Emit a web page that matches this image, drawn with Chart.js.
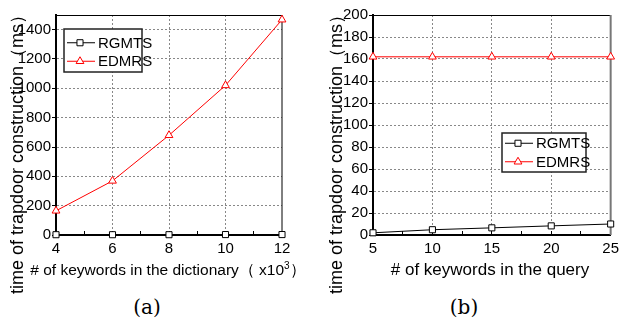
<!DOCTYPE html>
<html>
<head>
<meta charset="utf-8">
<script src="https://cdn.jsdelivr.net/npm/chart.js@4.4.0/dist/chart.umd.min.js"></script>
<style>
    body { margin: 0; background: #fff; }
    #page { position: relative; width: 628px; height: 320px; overflow: hidden; background: #fff; }
    canvas { position: absolute; top: 0; }
    .ytitle, .xtitle {
        position: absolute; width: 300px; height: 20px; line-height: 20px;
        text-align: center; white-space: nowrap; color: #000;
        font: 18px 'Liberation Sans Narrow', 'Liberation Sans', Arial, sans-serif;
    }
    .ytitle { transform: rotate(-90deg); }
    .xtitle { top: 260px; font-size: 17px; }
    .caption {
        position: absolute; top: 295px; width: 60px; text-align: center;
        font: 20px 'DejaVu Serif', serif; color: #000;
    }
</style>
</head>
<body>
<div id="page">
    <canvas id="chart_dict" width="314" height="290" style="left:0"></canvas>
    <canvas id="chart_query" width="314" height="290" style="left:314px"></canvas>
    <div class="ytitle" style="left:-135px; top:140px">time of trapdoor construction（ms）</div>
    <div class="ytitle" style="left:184px; top:140px">time of trapdoor construction（ms）</div>
    <div class="xtitle" style="left:18px; font-size:15.5px">#&nbsp;of keywords in the dictionary（ x10<sup style="font-size:10px">3</sup>）</div>
    <div class="xtitle" style="left:340px"># of keywords in the query</div>
    <div class="caption" style="left:117px">(a)</div>
    <div class="caption" style="left:434px">(b)</div>
</div>
<script>
const SANS = "'Liberation Sans Narrow', 'Liberation Sans', Arial, sans-serif";

// (a) varying dictionary size
const series_names = ['RGMTS', 'EDMRS'];
const keywords_dict = [4, 6, 8, 10, 12];
const rgmts_dict = [2, 2, 2, 3, 3];
const edmrs_dict = [165, 369, 680, 1020, 1468];
const x_ticks_dict = [4, 6, 8, 10, 12];
const y_ticks_dict = [0, 200, 400, 600, 800, 1000, 1200, 1400];

// (b) varying query size
const keywords_query = [5, 10, 15, 20, 25];
const rgmts_query = [2, 4.8, 6.5, 8.3, 10];
const edmrs_query = [162, 162, 162, 162, 162];
const x_ticks_query = [5, 10, 15, 20, 25];
const y_ticks_query = [0, 20, 40, 60, 80, 100, 120, 140, 160, 180, 200];

// major + minor (midpoint) ticks
function with_minor(major) {
    let out = major.slice();
    for (let i = 0; i < major.length - 1; i++) {
        out.push((major[i] + major[i + 1]) / 2);
    }
    return out.sort((a, b) => a - b);
}

// frame on top/right of plot area
const frame_plugin = {
    id: 'frame',
    beforeDatasetsDraw(chart, args, opts) {
        const a = chart.chartArea;
        const ctx = chart.ctx;
        ctx.save();
        ctx.strokeStyle = '#000';
        ctx.lineWidth = 1;
        ctx.beginPath();
        ctx.moveTo(a.left, a.top + 0.5);
        ctx.lineTo(a.right, a.top + 0.5);
        ctx.stroke();
        ctx.strokeStyle = opts.rightColor || '#000';
        ctx.lineWidth = opts.rightWidth || 1;
        ctx.beginPath();
        ctx.moveTo(a.right, a.top);
        ctx.lineTo(a.right, a.bottom);
        ctx.stroke();
        ctx.restore();
    }
};

// boxed legend inside the plot
const box_legend_plugin = {
    id: 'boxLegend',
    afterDraw(chart, args, opts) {
        const ctx = chart.ctx;
        ctx.save();
        ctx.fillStyle = '#fff';
        ctx.fillRect(opts.left, opts.top, opts.width, opts.height);
        ctx.strokeStyle = '#222';
        ctx.lineWidth = 1.5;
        ctx.strokeRect(opts.left, opts.top, opts.width, opts.height);
        const mid = opts.top + opts.height / 2 + (opts.shift || 0);
        chart.data.datasets.forEach((ds, i) => {
            const y = mid + (i - 0.5) * 18.5;
            ctx.strokeStyle = ds.borderColor;
            ctx.lineWidth = 1;
            ctx.beginPath();
            ctx.moveTo(opts.left + 3, y);
            ctx.lineTo(opts.left + 31, y);
            ctx.stroke();
            ctx.fillStyle = '#fff';
            ctx.strokeStyle = ds.borderColor;
            Chart.helpers.drawPoint(ctx, {
                pointStyle: ds.pointStyle, radius: ds.pointRadius, rotation: 0, borderWidth: 1
            }, opts.left + 16, y);
            ctx.fillStyle = '#000';
            ctx.font = '15px ' + SANS;
            ctx.textBaseline = 'middle';
            ctx.textAlign = 'left';
            ctx.fillText(ds.label, opts.left + 34, y + 1);
        });
        ctx.restore();
    }
};

function make_chart(canvas_id, xs, rgmts, edmrs, x_ticks, y_ticks, y_max, axis_width, pad_right, legend_box, frame_opts) {
    const x_all = with_minor(x_ticks);
    const y_all = with_minor(y_ticks);
    return new Chart(document.getElementById(canvas_id), {
        type: 'line',
        data: {
            datasets: [
                {
                    label: series_names[0],
                    data: xs.map((x, i) => ({x: x, y: rgmts[i]})),
                    borderColor: '#000',
                    backgroundColor: '#fff',
                    borderWidth: 1,
                    pointStyle: 'rect',
                    pointRadius: 4.3,
                    pointBorderWidth: 1,
                    clip: false
                },
                {
                    label: series_names[1],
                    data: xs.map((x, i) => ({x: x, y: edmrs[i]})),
                    borderColor: '#ff0000',
                    backgroundColor: '#fff',
                    borderWidth: 1,
                    pointStyle: 'triangle',
                    pointRadius: 4.5,
                    pointBorderWidth: 1,
                    clip: false
                }
            ]
        },
        options: {
            responsive: false,
            animation: false,
            devicePixelRatio: 1,
            layout: {padding: {top: 15, right: pad_right, left: 0, bottom: 0}},
            plugins: {
                legend: {display: false},
                tooltip: {enabled: false},
                frame: frame_opts,
                boxLegend: legend_box
            },
            scales: {
                x: {
                    type: 'linear',
                    min: x_ticks[0],
                    max: x_ticks[x_ticks.length - 1],
                    afterBuildTicks: s => { s.ticks = x_all.map(v => ({value: v})); },
                    afterFit: s => { s.height = 55; },
                    ticks: {
                        autoSkip: false, maxRotation: 0, color: '#000', padding: 9,
                        font: {family: SANS, size: 15},
                        callback: v => x_ticks.includes(v) ? String(v) : ''
                    },
                    grid: {
                        color: c => (x_ticks.includes(c.tick.value) && c.index > 0 && c.index < x_all.length - 1) ? '#888' : 'rgba(0,0,0,0)',
                        tickColor: '#000',
                        tickLength: -4,
                        lineWidth: 1
                    },
                    border: {color: '#000', width: 2, dash: [2, 2]}
                },
                y: {
                    type: 'linear',
                    min: 0,
                    max: y_max,
                    afterBuildTicks: s => { s.ticks = y_all.map(v => ({value: v})); },
                    afterFit: s => { s.width = axis_width; },
                    ticks: {
                        color: '#000', padding: 1,
                        font: {family: SANS, size: 15},
                        callback: v => y_ticks.includes(v) ? String(v) : ''
                    },
                    grid: {
                        color: c => (y_ticks.includes(c.tick.value) && c.tick.value > 0 && c.tick.value < y_max) ? '#888' : 'rgba(0,0,0,0)',
                        tickColor: '#000',
                        tickLength: 4,
                        lineWidth: 1
                    },
                    border: {color: '#000', width: 2, dash: [2, 2]}
                }
            }
        },
        plugins: [frame_plugin, box_legend_plugin]
    });
}

make_chart('chart_dict', keywords_dict, rgmts_dict, edmrs_dict, x_ticks_dict, y_ticks_dict, 1500,
    56, 32, {left: 64, top: 29, width: 78, height: 43, shift: 1.5}, {rightColor: '#000', rightWidth: 1});

make_chart('chart_query', keywords_query, rgmts_query, edmrs_query, x_ticks_query, y_ticks_query, 200,
    59, 11, {left: 188, top: 133, width: 84, height: 39, shift: 0}, {rightColor: '#777', rightWidth: 2});
</script>
</body>
</html>
